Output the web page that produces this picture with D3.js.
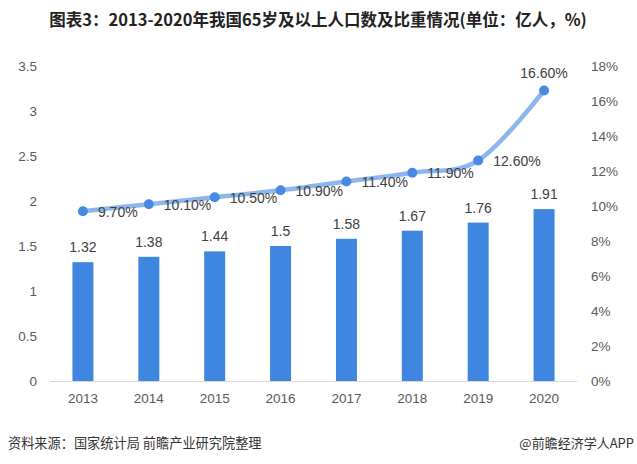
<!DOCTYPE html>
<html><head><meta charset="utf-8">
<script src="https://cdn.jsdelivr.net/npm/d3@7"></script>
<style>
body{margin:0;background:#fff;}
svg{display:block;font-family:"Noto Sans CJK SC","Noto Sans",sans-serif;}
</style></head>
<body><svg id="c" width="637" height="464"></svg>
<script>
const years = ["2013","2014","2015","2016","2017","2018","2019","2020"];
const population = [1.32,1.38,1.44,1.5,1.58,1.67,1.76,1.91];
const share = [9.7,10.1,10.5,10.9,11.4,11.9,12.6,16.6];
const leftTicks = [0,0.5,1,1.5,2,2.5,3,3.5];
const rightTicks = [0,2,4,6,8,10,12,14,16,18];

const svg = d3.select("#c");
const pTop = 66, pBottom = 381, pLeft = 50, pRight = 577;
const x = d3.scaleBand().domain(years).range([pLeft,pRight]);
const yL = d3.scaleLinear().domain([0,3.5]).range([pBottom,pTop]);
const yR = d3.scaleLinear().domain([0,18]).range([pBottom,pTop]);
const cx = d => x(d) + x.bandwidth()/2;
const numFont = "'Liberation Sans','DejaVu Sans',sans-serif";

// title
svg.append("text").attr("x",318).attr("y",26).attr("text-anchor","middle")
  .attr("font-size",16.5).attr("font-weight","bold").attr("fill","#222")
  .text("图表3：2013-2020年我国65岁及以上人口数及比重情况(单位：亿人，%)");

// left axis
const gL = svg.append("g").attr("transform",`translate(37,0)`)
  .call(d3.axisLeft(yL).tickValues(leftTicks).tickSize(0).tickPadding(0).tickFormat(d3.format("~g")));
gL.select(".domain").remove();
gL.selectAll("text").attr("font-size",13.5).attr("fill","#595959").attr("font-family",numFont);

// right axis
const gR = svg.append("g").attr("transform",`translate(591,0)`)
  .call(d3.axisRight(yR).tickValues(rightTicks).tickSize(0).tickPadding(0).tickFormat(d=>d+"%"));
gR.select(".domain").remove();
gR.selectAll("text").attr("font-size",13.5).attr("fill","#595959").attr("font-family",numFont);

// bars
const bw = 21;
svg.selectAll("rect.bar").data(years).join("rect").attr("class","bar")
  .attr("x",d=>cx(d)-bw/2).attr("width",bw)
  .attr("y",(d,i)=>yL(population[i])).attr("height",(d,i)=>pBottom-yL(population[i]))
  .attr("fill","#3f86e0");

// baseline
svg.append("line").attr("x1",pLeft).attr("x2",pRight).attr("y1",pBottom+0.5).attr("y2",pBottom+0.5)
  .attr("stroke","#d9d9d9").attr("stroke-width",1);

// x labels
const gX = svg.append("g").attr("transform",`translate(0,${pBottom})`)
  .call(d3.axisBottom(x).tickSize(0).tickPadding(12));
gX.select(".domain").remove();
gX.selectAll("text").attr("font-size",13.5).attr("fill","#595959").attr("font-family",numFont);

// bar labels
svg.selectAll("text.bl").data(years).join("text").attr("class","bl")
  .attr("x",d=>cx(d)).attr("y",(d,i)=>yL(population[i])-10)
  .attr("text-anchor","middle").attr("font-size",14).attr("fill","#404040").attr("font-family",numFont)
  .text((d,i)=>population[i]);

// line
const line = d3.line().x(d=>cx(d[0])).y(d=>yR(d[1])).curve(d3.curveCardinal.tension(0));
const pts = years.map((d,i)=>[d,share[i]]);
svg.append("path").attr("d",line(pts)).attr("fill","none")
  .attr("stroke","#8db6ee").attr("stroke-width",4.5).attr("stroke-linecap","round");
svg.selectAll("circle.pt").data(pts).join("circle").attr("class","pt")
  .attr("cx",d=>cx(d[0])).attr("cy",d=>yR(d[1])).attr("r",5).attr("fill","#4a89e2");

// line labels
svg.selectAll("text.ll").data(pts).join("text").attr("class","ll")
  .attr("x",(d,i)=> i===7 ? cx(d[0]) : cx(d[0])+15)
  .attr("y",(d,i)=> i===7 ? yR(d[1])-13 : yR(d[1])+5.5)
  .attr("text-anchor",(d,i)=> i===7 ? "middle" : "start")
  .attr("font-size",14).attr("fill","#404040").attr("font-family",numFont)
  .text(d=>d[1].toFixed(2)+"%");

// footer
svg.append("text").attr("x",8).attr("y",448).attr("font-size",13.2).attr("fill","#333")
  .text("资料来源：国家统计局 前瞻产业研究院整理");
svg.append("text").attr("x",634).attr("y",448).attr("text-anchor","end").attr("font-size",13).attr("fill","#333")
  .text("@前瞻经济学人APP");
</script></body></html>
